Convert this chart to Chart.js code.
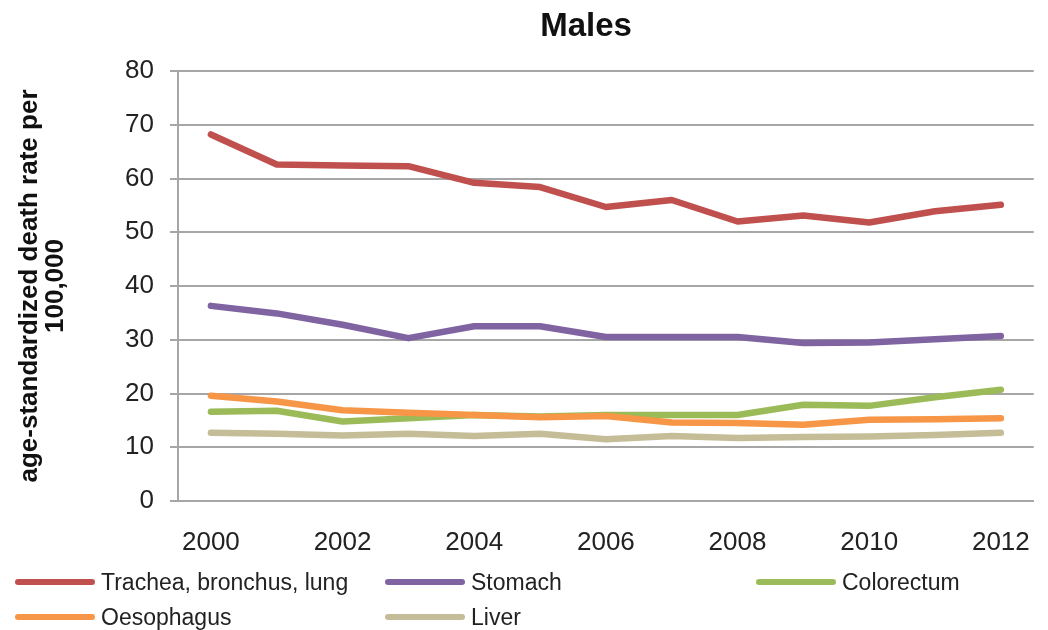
<!DOCTYPE html>
<html lang="en">
<head>
  <meta charset="UTF-8">
  <title>Males</title>
  <script src="https://cdn.jsdelivr.net/npm/chart.js"></script>
  <style>
    body {
      margin: 0;
      background: #fff;
      font-family: "Liberation Sans", Arial, sans-serif;
    }

    .wrap {
      position: relative;
      width: 1048px;
      height: 630px;
    }

    .title {
      position: absolute;
      left: 486px;
      width: 200px;
      top: 6px;
      text-align: center;
      font-weight: bold;
      font-size: 33px;
      color: #111;
    }

    .legend-item {
      position: absolute;
      display: flex;
      align-items: center;
      font-size: 23px;
      color: #222;
      height: 30px;
    }

    .legend-item span.swatch {
      display: inline-block;
      width: 80px;
      height: 6px;
      border-radius: 3px;
      margin-right: 6px;
    }
  </style>
</head>
<body>

  <div class="wrap">
    <canvas id="chart" width="1048" height="630"></canvas>
    <div class="title">Males</div>
    <div id="legend"></div>
  </div>

  <script>
    const years = ["2000", "2001", "2002", "2003", "2004", "2005", "2006",
                   "2007", "2008", "2009", "2010", "2011", "2012"];

    const trachea    = [68.2, 62.6, 62.4, 62.3, 59.2, 58.4, 54.7, 56.0, 52.0, 53.1, 51.8, 53.9, 55.1];
    const stomach    = [36.3, 34.9, 32.8, 30.3, 32.5, 32.5, 30.5, 30.5, 30.5, 29.4, 29.5, 30.1, 30.7];
    const colorectum = [16.6, 16.8, 14.8, 15.4, 16.0, 15.7, 16.0, 16.0, 16.0, 17.9, 17.7, 19.3, 20.7];
    const oesophagus = [19.6, 18.5, 16.9, 16.4, 16.0, 15.6, 15.8, 14.6, 14.5, 14.2, 15.1, 15.2, 15.4];
    const liver      = [12.7, 12.5, 12.2, 12.5, 12.1, 12.5, 11.5, 12.1, 11.7, 11.9, 12.0, 12.3, 12.7];

    const seriesNames  = ["Trachea, bronchus, lung", "Stomach", "Colorectum", "Oesophagus", "Liver"];
    const seriesColors = ["#C0504D", "#8064A2", "#9BBB59", "#F79646", "#C4BD97"];
    const seriesData   = [trachea, stomach, colorectum, oesophagus, liver];

    const gridGrey = "#A6A6A6";
    const fontFam = '"Liberation Sans", Arial, sans-serif';

    const datasets = seriesNames.map((name, i) => ({
      label: name,
      data: seriesData[i],
      borderColor: seriesColors[i],
      backgroundColor: seriesColors[i],
      borderWidth: 6.5,
      borderCapStyle: "round",
      borderJoinStyle: "round",
      pointRadius: 0,
      tension: 0,
      fill: false,
      order: seriesNames.length - i   // later series drawn on top, like the original
    }));

    const ctx = document.getElementById("chart").getContext("2d");
    new Chart(ctx, {
      type: "line",
      data: { labels: years, datasets: datasets },
      options: {
        responsive: false,
        animation: false,
        layout: { padding: { top: 71, right: 6, bottom: 69, left: 0 } },
        plugins: {
          legend: { display: false },
          tooltip: { enabled: false }
        },
        scales: {
          x: {
            offset: true,
            grid: { display: false },
            border: { display: true, color: gridGrey, width: 2 },
            ticks: {
              autoSkip: false,
              maxRotation: 0,
              padding: 18,
              color: "#222",
              font: { family: fontFam, size: 26 },
              callback: function (val, idx) {
                return idx % 2 === 0 ? this.getLabelForValue(val) : "";
              }
            },
            afterFit: (scale) => { scale.height = 60; }
          },
          y: {
            min: 0,
            max: 80,
            grid: { color: gridGrey, lineWidth: 2, tickLength: 8 },
            border: { display: true, color: gridGrey, width: 2 },
            ticks: {
              stepSize: 10,
              padding: 16,
              color: "#222",
              font: { family: fontFam, size: 26 }
            },
            title: {
              display: true,
              text: ["age-standardized death rate per", "100,000"],
              color: "#111",
              font: { family: fontFam, size: 26, weight: "bold", lineHeight: 1.0 },
              padding: { top: 17, bottom: 0 }
            },
            afterFit: (scale) => { scale.width = 178; }
          }
        }
      }
    });

    // legend laid out in the same three columns as the original
    const legendSpots = [
      { x: 15, y: 567 }, { x: 385, y: 567 }, { x: 756, y: 567 },
      { x: 15, y: 602 }, { x: 385, y: 602 }
    ];
    const legend = document.getElementById("legend");
    seriesNames.forEach((name, i) => {
      const item = document.createElement("div");
      item.className = "legend-item";
      item.style.left = legendSpots[i].x + "px";
      item.style.top = legendSpots[i].y + "px";
      item.innerHTML = '<span class="swatch" style="background:' + seriesColors[i] + '"></span>' + name;
      legend.appendChild(item);
    });
  </script>

</body>
</html>
